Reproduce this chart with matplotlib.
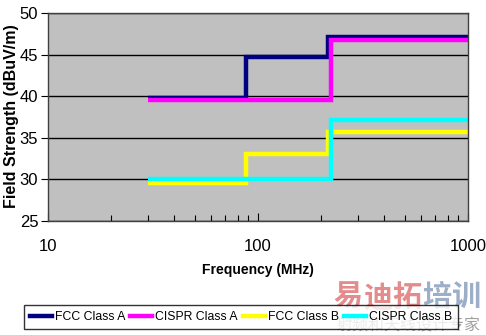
import matplotlib
matplotlib.use("Agg")
import matplotlib.pyplot as plt
from matplotlib.ticker import LogLocator, NullFormatter, FixedLocator

plt.rcParams['font.family'] = ['Liberation Sans', 'DejaVu Sans']

# Step limits: breakpoints (MHz) and levels (dBuV/m)
fcc_a_f = [30, 88, 216, 1000]
fcc_a_v = [39.8, 44.7, 47.1]
cispr_a_f = [30, 222, 1000]
cispr_a_v = [39.5, 46.7]
fcc_b_f = [30, 88, 216, 1000]
fcc_b_v = [29.6, 33.1, 35.7]
cispr_b_f = [30, 222, 1000]
cispr_b_v = [30.1, 37.1]

series = [
    ("FCC Class A", fcc_a_f, fcc_a_v, "#000080"),
    ("CISPR Class A", cispr_a_f, cispr_a_v, "#FF00FF"),
    ("FCC Class B", fcc_b_f, fcc_b_v, "#FFFF00"),
    ("CISPR Class B", cispr_b_f, cispr_b_v, "#00FFFF"),
]

W, H = 486, 335
fig = plt.figure(figsize=(W/100, H/100), dpi=100)
ax = fig.add_axes([48/W, 1-221/H, 420/W, 208/H])
ax.set_facecolor("#C0C0C0")

for name, f, v, c in series:
    ax.stairs(v, f, color=c, lw=3.2, label=name, baseline=None)

ax.set_xscale("log")
ax.set_xlim(10, 1000)
ax.set_ylim(25, 50)
ax.set_yticks([25, 30, 35, 40, 45, 50])
ax.yaxis.grid(True, color="black", lw=1)
ax.set_axisbelow(True)
ax.xaxis.set_major_locator(FixedLocator([10, 100, 1000]))
ax.xaxis.set_minor_locator(LogLocator(base=10, subs=range(2, 10)))
ax.xaxis.set_minor_formatter(NullFormatter())
ax.set_xticklabels(["10", "100", "1000"])
ax.tick_params(axis="x", which="both", direction="in", length=4, width=0.8, labelsize=12, pad=13)
ax.tick_params(axis="x", which="major", length=6)
ax.tick_params(axis="y", direction="out", length=5, labelsize=12, pad=2)
for s in ax.spines.values():
    s.set_color("#404040")
    s.set_linewidth(1)

fig.text(258/W, 1-270/H, "Frequency (MHz)", fontsize=10, fontweight="bold",
         ha="center", va="center")
fig.text(12/W, 1-116/H, "Field Strength (dBuV/m)", fontsize=11.5, fontweight="bold",
         ha="center", va="center", rotation=90)

leg = fig.legend(loc="center", bbox_to_anchor=(241/W, 1-317/H), ncol=4,
                 fontsize=8.8, frameon=True, fancybox=False, edgecolor="black",
                 handlelength=1.8, handletextpad=0.25, columnspacing=0.4,
                 borderpad=0.5, borderaxespad=0)
leg.get_frame().set_linewidth(1)

# watermark
wm_chars = ["易", "迪", "拓", "培", "训"]
wm_cols = ["#E07878", "#E07878", "#E07878", "#8CA0C0", "#8CA0C0"]
for i, (ch, col) in enumerate(zip(wm_chars, wm_cols)):
    fig.text((348 + i*29.5)/W, 1-297/H, ch, family=["Noto Sans CJK SC"], fontsize=21,
             fontweight="heavy", color=col, alpha=0.85, ha="center", va="center")
fig.text(408/W, 1-326/H, "射频和天线设计专家", family=["Noto Sans CJK SC"], fontsize=11.5,
         color="#909090", alpha=0.85, ha="center", va="center")

fig.savefig("out.png", dpi=100, facecolor="white")
